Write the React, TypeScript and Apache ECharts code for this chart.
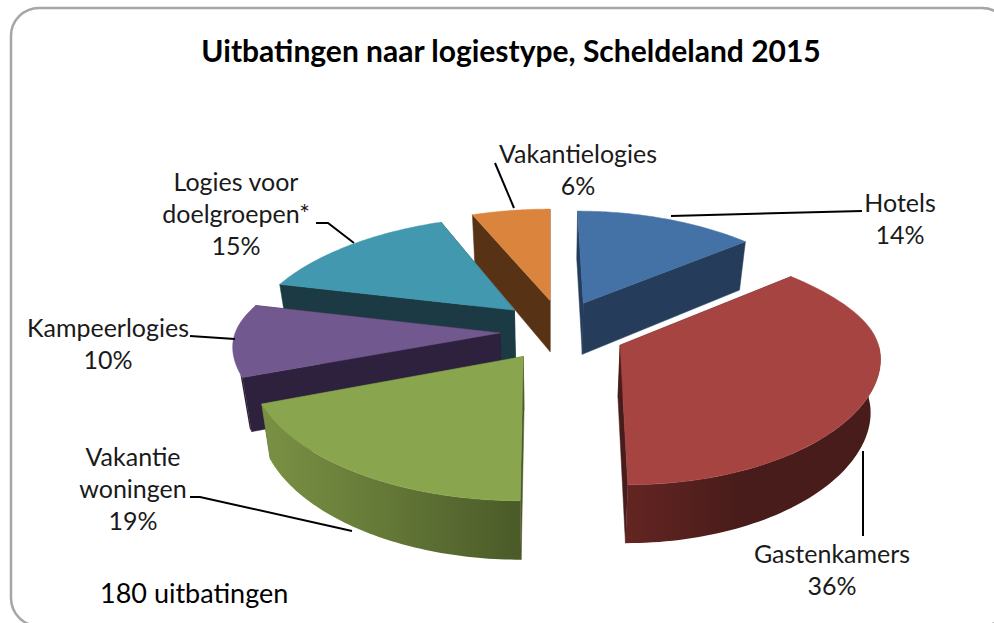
import React, { useEffect, useRef } from "react";
import * as echarts from "echarts";

const categories = ["Hotels", "Gastenkamers", "Vakantie\nwoningen", "Kampeerlogies", "Logies voor\ndoelgroepen*", "Vakantielogies"];
const shares = [14, 36, 19, 10, 15, 6];
const titleText = "Uitbatingen naar logiestype, Scheldeland 2015";
const noteText = "180 uitbatingen";

const explodeU = [0.135, 0.27, -0.1, -0.19, -0.14, 0];
const explodeV = [-0.2, 0.175, 0.27, 0.07, -0.135, -0.225];
const drawRank = [3, 6, 5, 4, 2, 1];
const topColors = ["#4472A6", "#A64442", "#89A54E", "#71588F", "#4198AF", "#DB843D"];
const cutColors = ["#253D5B", "#481C1A", "#4A5A28", "#2E213D", "#1B3A44", "#583215"];
const rimFrom = ["#2A4566", "#642522", "#7A9144", "#2E213D", "#1F4350", "#5F3718"];
const rimMid = ["#253D5B", "#481C1A", "#667A38", "#2E213D", "#1B3A44", "#583215"];
const rimTo = ["#253D5B", "#481C1A", "#4A5A28", "#2E213D", "#1B3A44", "#583215"];

const labelAnchors = [
  { x: 900, y: 218 },
  { x: 832, y: 569 },
  { x: 133, y: 488 },
  { x: 108, y: 343 },
  { x: 236, y: 213 },
  { x: 578, y: 169 },
];
const leaders = [
  [[671, 216], [862, 211]],
  [[863, 451], [863, 536]],
  [[190, 497], [200, 497], [352, 531]],
  [[190, 336], [235, 339]],
  [[316, 223], [328, 223], [354, 243]],
  [[495, 163], [514, 208]],
];

const CX = 550, CY = 325, B = 112, P = 0.15, D = 52;
const RIM_FROM = Math.PI / 2;
const RIM_TO = (250 / 180) * Math.PI;
const project = (u: number, v: number, z: number): number[] => {
  const w = 1 - P * v;
  const a = 257.5 + 4.5 * Math.tanh(-4 * u);
  const sx = Math.pow(w, 1 - 0.35 * Math.tanh(3 * v));
  return [CX + ((a * u) / sx) * (1 - 0.03 * z), CY + (B * v) / w + (z * D) / Math.pow(w, 0.6)];
};

const total = shares.reduce((a, b) => a + b, 0);
const FONT = "Lato, 'Open Sans', sans-serif";

function renderSlice(params: any, api: any) {
  const i = params.dataIndex;
  const value = api.value(0);
  const before = shares.slice(0, i).reduce((a, b) => a + b, 0);
  const start = (before / total) * 2 * Math.PI;
  const end = ((before + value) / total) * 2 * Math.PI;
  const ou = explodeU[i];
  const ov = explodeV[i];
  const rim = (t: number, z: number) => project(ou + Math.sin(t), ov - Math.cos(t), z);
  const apex = (z: number) => project(ou, ov, z);
  const N = 64;
  const upper: number[][] = [];
  for (let k = 0; k <= N; k++) upper.push(rim(start + ((end - start) * k) / N, 0));
  const frontStart = Math.max(start, RIM_FROM);
  const frontEnd = Math.min(end, RIM_TO);
  const wallTop: number[][] = [];
  const wallBottom: number[][] = [];
  if (frontEnd > frontStart) {
    for (let k = 0; k <= N; k++) {
      const t = frontStart + ((frontEnd - frontStart) * k) / N;
      wallTop.push(rim(t, 0));
      wallBottom.push(rim(t, 1));
    }
  }
  const z2 = drawRank[i] * 10;
  const poly = (points: number[][], fill: any, extra = 0) => ({
    type: "polygon",
    z2: z2 + extra,
    shape: { points },
    style: { fill, stroke: typeof fill === "string" ? fill : undefined, lineWidth: typeof fill === "string" ? 0.5 : 0 },
  });
  const gradient = new echarts.graphic.LinearGradient(0, 0, 1, 0, [
    { offset: 0, color: rimFrom[i] },
    { offset: 0.45, color: rimMid[i] },
    { offset: 1, color: rimTo[i] },
  ]);
  const children: any[] = [
    poly([apex(0), rim(start, 0), rim(start, 1), apex(1)], cutColors[i], 0),
    poly([apex(0), rim(end, 0), rim(end, 1), apex(1)], cutColors[i], 0),
  ];
  if (wallTop.length) children.push(poly([...wallTop, ...wallBottom.slice().reverse()], gradient, 1));
  children.push(
    poly([apex(0), ...upper], topColors[i], 2),
    {
      type: "polyline",
      z2: 100,
      shape: { points: leaders[i] },
      style: { stroke: "#000", lineWidth: 2, fill: "none" },
    },
    {
      type: "text",
      z2: 101,
      x: labelAnchors[i].x,
      y: labelAnchors[i].y,
      style: {
        text: `${categories[i]}\n${value}%`,
        fill: "#1a1a1a",
        font: `25px ${FONT}`,
        lineHeight: 32,
        align: "center",
        verticalAlign: "middle",
      },
    }
  );
  return { type: "group", children };
}

export default function App() {
  const ref = useRef<HTMLDivElement>(null);
  useEffect(() => {
    const chart = echarts.init(ref.current!, undefined, { renderer: "svg" });
    chart.setOption({
      animation: false,
      backgroundColor: "#fff",
      title: {
        text: titleText,
        left: 506,
        top: 30,
        textAlign: "center",
        textStyle: { fontFamily: FONT, fontWeight: "bold", fontSize: 30, color: "#000" },
      },
      graphic: [
        {
          type: "rect",
          z: -1,
          shape: { x: 11, y: 8, width: 999, height: 618, r: 28 },
          style: { fill: "#fff", stroke: "#a6a6a6", lineWidth: 2.5 },
        },
        {
          type: "text",
          x: 100,
          y: 592,
          style: { text: noteText, fill: "#000", font: `27px ${FONT}`, verticalAlign: "middle" },
        },
      ],
      series: [
        {
          type: "custom",
          coordinateSystem: "none",
          renderItem: renderSlice,
          data: shares.map((v) => [v]),
          silent: true,
        },
      ],
    });
    return () => chart.dispose();
  }, []);
  return <div ref={ref} style={{ position: "fixed", left: 0, top: 0, width: 994, height: 623 }} />;
}
